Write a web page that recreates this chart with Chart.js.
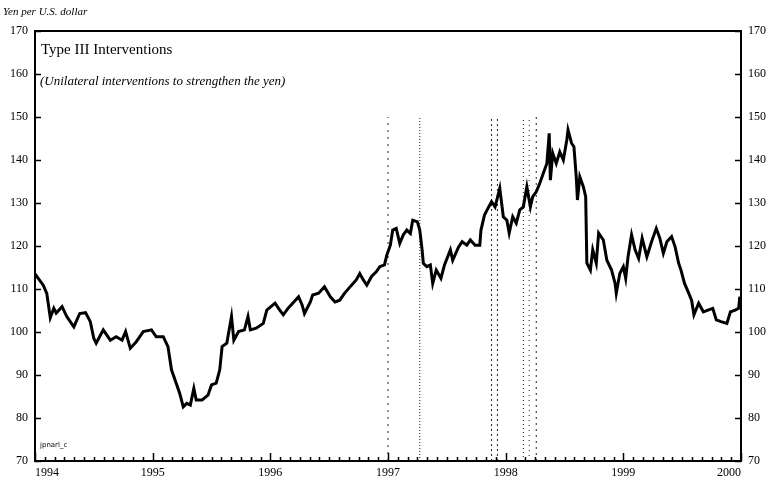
<!DOCTYPE html>
<html>
<head>
<meta charset="utf-8">
<script src="https://cdn.jsdelivr.net/npm/chart.js@4.4.0/dist/chart.umd.min.js"></script>
<style>
  html, body { margin: 0; padding: 0; background: #fff; }
  #wrap { width: 767px; height: 484px; position: relative; }
</style>
</head>
<body>
<div id="wrap"><canvas id="myChart"></canvas></div>
<script>
// yen per dollar (decimal years)
const dates = [
  1994.00, 1994.07, 1994.10, 1994.13, 1994.16, 1994.18, 1994.23, 1994.27, 1994.33, 1994.38,
  1994.43, 1994.47, 1994.50, 1994.52, 1994.58, 1994.64, 1994.69, 1994.74, 1994.77, 1994.81,
  1994.86, 1994.92, 1994.99, 1995.03, 1995.09, 1995.13, 1995.16, 1995.20, 1995.23, 1995.26,
  1995.29, 1995.32, 1995.35, 1995.37, 1995.42, 1995.47, 1995.50, 1995.54, 1995.57, 1995.59,
  1995.63, 1995.67, 1995.69, 1995.73, 1995.78, 1995.81, 1995.83, 1995.88, 1995.94, 1995.97,
  1996.04, 1996.08, 1996.11, 1996.15, 1996.19, 1996.24, 1996.27, 1996.29, 1996.34, 1996.36,
  1996.41, 1996.46, 1996.51, 1996.55, 1996.59, 1996.63, 1996.69, 1996.73, 1996.76, 1996.79,
  1996.82, 1996.86, 1996.90, 1996.93, 1996.97, 1996.99, 1997.02, 1997.04, 1997.07, 1997.10,
  1997.13, 1997.16, 1997.19, 1997.21, 1997.25, 1997.27, 1997.29, 1997.30, 1997.33, 1997.36,
  1997.38, 1997.41, 1997.45, 1997.48, 1997.53, 1997.55, 1997.60, 1997.63, 1997.67, 1997.70,
  1997.74, 1997.78, 1997.79, 1997.82, 1997.85, 1997.88, 1997.91, 1997.95, 1997.98, 1998.01,
  1998.03, 1998.06, 1998.09, 1998.12, 1998.15, 1998.18, 1998.21, 1998.23, 1998.26, 1998.29,
  1998.32, 1998.35, 1998.37, 1998.38, 1998.40, 1998.43, 1998.46, 1998.49, 1998.52, 1998.53,
  1998.56, 1998.58, 1998.60, 1998.61, 1998.63, 1998.66, 1998.68, 1998.69, 1998.72, 1998.74,
  1998.77, 1998.79, 1998.83, 1998.86, 1998.90, 1998.93, 1998.94, 1998.97, 1999.00, 1999.02,
  1999.04, 1999.07, 1999.10, 1999.13, 1999.16, 1999.20, 1999.24, 1999.28, 1999.31, 1999.34,
  1999.37, 1999.41, 1999.44, 1999.47, 1999.49, 1999.52, 1999.55, 1999.58, 1999.60, 1999.64,
  1999.68, 1999.72, 1999.76, 1999.79, 1999.83, 1999.88, 1999.91, 1999.95, 1999.98, 1999.99
];
const yen = [
  113.5, 110.9, 109.0, 103.3, 105.5, 104.4, 105.9, 103.6, 101.2, 104.3,
  104.5, 102.4, 98.5, 97.4, 100.5, 98.1, 98.9, 98.1, 100.1, 96.2,
  97.7, 100.1, 100.5, 98.9, 98.9, 96.6, 91.2, 88.1, 85.7, 82.6,
  83.4, 83.0, 86.9, 84.2, 84.2, 85.3, 87.7, 88.1, 91.2, 96.6,
  97.4, 103.6, 98.1, 100.1, 100.5, 103.6, 100.5, 100.9, 102.0, 105.1,
  106.7, 105.1, 104.0, 105.5, 106.7, 108.2, 106.3, 104.3, 107.0, 108.6,
  109.0, 110.5, 108.2, 107.0, 107.4, 109.0, 110.9, 112.1, 113.6, 112.1,
  110.9, 112.9, 114.0, 115.2, 115.6, 117.9, 120.2, 123.7, 124.1, 120.6,
  122.6, 123.7, 122.9, 126.0, 125.6, 123.7, 119.1, 116.0, 115.2, 115.6,
  111.3, 114.4, 112.5, 115.6, 119.1, 116.7, 119.8, 121.0, 120.2, 121.4,
  120.2, 120.2, 123.7, 127.2, 128.8, 130.3, 129.1, 133.4, 126.8, 126.0,
  123.0, 126.8, 125.3, 128.4, 129.1, 133.8, 129.1, 131.5, 132.6, 134.6,
  136.9, 139.2, 146.2, 135.3, 141.6, 139.2, 141.9, 140.0, 144.7, 147.0,
  143.9, 143.1, 136.1, 130.7, 136.1, 133.8, 131.5, 116.0, 114.4, 119.1,
  116.0, 123.0, 121.4, 116.7, 114.4, 111.3, 109.0, 113.6, 115.2, 112.5,
  117.5, 122.6, 119.1, 117.1, 121.8, 117.5, 121.0, 124.1, 121.8, 118.3,
  121.0, 122.2, 119.8, 116.0, 114.4, 111.3, 109.4, 107.4, 104.0, 106.7,
  104.7, 105.1, 105.5, 102.8, 102.4, 102.0, 104.7, 105.1, 105.5, 108.2
];
// dates of the interventions (vertical dotted lines)
const interventions = [1997.00, 1997.27, 1997.88, 1997.93, 1998.15, 1998.20, 1998.26];
const interventionDash = [[2, 5], [1, 2], [2, 3], [2, 3], [1, 3], [1, 4], [2, 4]];
const yTicks = [70, 80, 90, 100, 110, 120, 130, 140, 150, 160, 170];
const years = [1994, 1995, 1996, 1997, 1998, 1999, 2000];

const serif = "'Liberation Serif', 'DejaVu Serif', serif";

const datasets = [{
  label: 'Yen',
  data: dates.map((d, i) => ({x: d, y: yen[i]})),
  borderColor: '#000',
  borderWidth: 3,
  pointRadius: 0,
  tension: 0
}];
interventions.forEach((d, i) => {
  datasets.push({
    label: 'int' + i,
    data: [{x: d, y: 70}, {x: d, y: 150}],
    borderColor: '#222',
    borderWidth: 1,
    borderDash: interventionDash[i],
    pointRadius: 0
  });
});

// frame, inward tick marks and the texts
const decor = {
  id: 'decor',
  afterDraw(chart) {
    const c = chart.ctx, a = chart.chartArea;
    const x = chart.scales.x, y = chart.scales.y;
    c.save();
    c.strokeStyle = '#000';
    c.lineWidth = 2;
    c.strokeRect(a.left, a.top, a.right - a.left, a.bottom - a.top);
    c.lineWidth = 1.5;
    c.beginPath();
    yTicks.forEach(v => {
      const py = Math.round(y.getPixelForValue(v)) + 0.5;
      c.moveTo(a.left, py); c.lineTo(a.left + 6, py);
      c.moveTo(a.right, py); c.lineTo(a.right - 6, py);
    });
    for (let m = 0; m <= 72; m++) {
      const px = Math.round(x.getPixelForValue(years[0] + m / 12)) + 0.5;
      const h = (m % 12 === 0) ? 8 : 4;
      c.moveTo(px, a.bottom); c.lineTo(px, a.bottom - h);
    }
    c.stroke();

    c.fillStyle = '#000';
    c.textBaseline = 'alphabetic';
    c.font = "italic 11px " + serif;
    c.fillText('Yen per U.S. dollar', 3, 15);
    c.font = "15px " + serif;
    c.fillText('Type III Interventions', a.left + 6, 54);
    c.font = "italic 13px " + serif;
    c.fillText('(Unilateral interventions to strengthen the yen)', a.left + 5, 85);
    c.font = "7px 'DejaVu Sans', sans-serif";
    c.fillText('jpnarl_c', a.left + 5, 447);
    c.restore();
  }
};

const yAxis = (pos, w) => ({
  type: 'linear',
  position: pos,
  min: 70,
  max: 170,
  grid: {display: false, drawTicks: false},
  border: {display: false},
  ticks: {
    stepSize: 10,
    padding: 7,
    color: '#000',
    font: {family: serif, size: 12}
  },
  afterFit(s) { s.width = w; }
});

const config = {
  type: 'line',
  data: {datasets: datasets},
  options: {
    responsive: true,
    maintainAspectRatio: false,
    animation: false,
    layout: {padding: {top: 31}},
    plugins: {legend: {display: false}, tooltip: {enabled: false}},
    scales: {
      x: {
        type: 'linear',
        min: years[0],
        max: years[years.length - 1],
        grid: {display: false, drawTicks: false},
        border: {display: false},
        ticks: {
          stepSize: 1,
          padding: 5,
          align: 'inner',
          maxRotation: 0,
          color: '#000',
          font: {family: serif, size: 12},
          callback: v => String(v)
        },
        afterFit(s) { s.height = 23; }
      },
      y: yAxis('left', 35),
      y2: yAxis('right', 26)
    }
  },
  plugins: [decor]
};

new Chart(document.getElementById('myChart').getContext('2d'), config);
</script>
</body>
</html>
